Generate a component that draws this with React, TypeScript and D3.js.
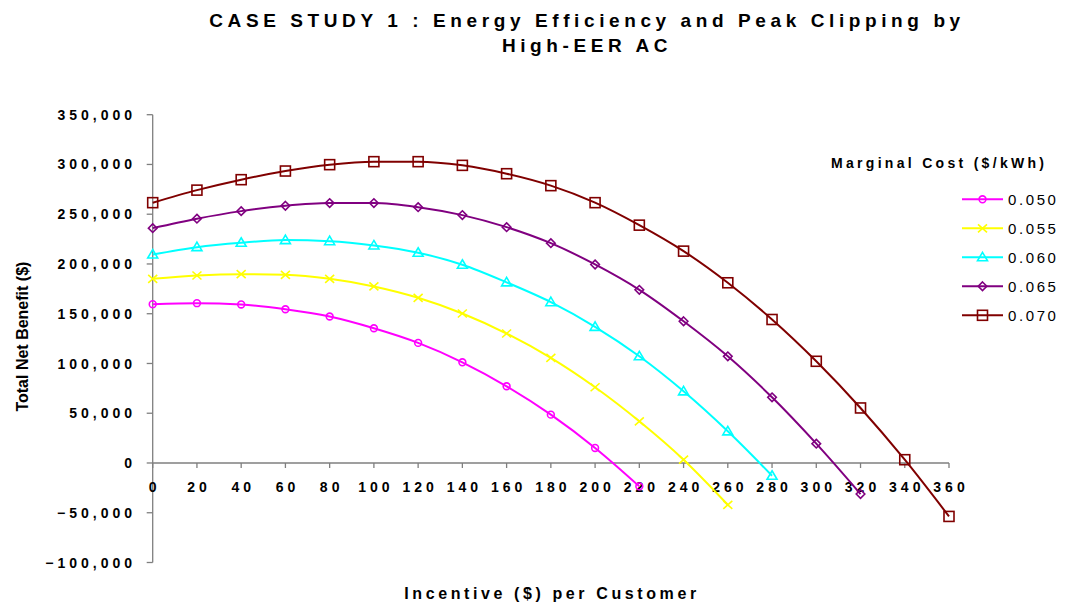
import React from "react";
import * as d3 from "d3";

const incentives = [0, 20, 40, 60, 80, 100, 120, 140, 160, 180, 200, 220, 240, 260, 280, 300, 320, 340, 360];

const s050 = [159600, 160600, 159300, 154500, 147200, 135400, 120700, 101200, 77100, 48600, 15100, -23500];
const s055 = [185100, 188400, 189700, 189100, 185100, 177400, 166000, 150200, 130100, 105600, 76100, 41900, 3300, -42000];
const s060 = [209500, 216900, 221300, 224000, 222900, 218600, 211300, 199200, 181500, 161600, 136800, 107200, 72000, 31800, -12800];
const s065 = [236000, 245500, 253100, 258500, 261200, 261200, 257100, 249100, 237000, 220900, 199500, 174000, 142400, 107200, 66000, 19400, -31200];
const s070 = [261600, 274200, 284700, 293400, 299800, 302800, 302800, 299100, 290700, 278700, 261600, 239000, 212900, 181100, 144200, 102200, 55300, 3300, -53700];

const seriesLabels = ["0.050", "0.055", "0.060", "0.065", "0.070"];
const seriesValues = [s050, s055, s060, s065, s070];
const seriesColors = ["#FF00FF", "#FFFF00", "#00FFFF", "#800080", "#800000"];
const seriesMarkers = ["circle", "x", "triangle", "diamond", "square"];

const yTicks = [-100000, -50000, 0, 50000, 100000, 150000, 200000, 250000, 300000, 350000];
const xTicks = [0, 20, 40, 60, 80, 100, 120, 140, 160, 180, 200, 220, 240, 260, 280, 300, 320, 340, 360];

const FONT = "'Liberation Sans', Arial, sans-serif";

function Marker({ type, x, y, color }: { type: string; x: number; y: number; color: string }) {
  const sw = 1.6;
  if (type === "circle") return <circle cx={x} cy={y} r={3.4} fill="none" stroke={color} strokeWidth={sw} />;
  if (type === "square") return <rect x={x - 5} y={y - 5} width={10} height={10} fill="none" stroke={color} strokeWidth={sw} />;
  if (type === "diamond")
    return <path d={`M${x},${y - 4.3}L${x + 4.3},${y}L${x},${y + 4.3}L${x - 4.3},${y}Z`} fill="none" stroke={color} strokeWidth={sw} />;
  if (type === "triangle")
    return <path d={`M${x},${y - 5}L${x + 5},${y + 3.5}L${x - 5},${y + 3.5}Z`} fill="none" stroke={color} strokeWidth={sw} />;
  return (
    <path d={`M${x - 4.5},${y - 4}L${x + 4.5},${y + 4}M${x - 4.5},${y + 4}L${x + 4.5},${y - 4}`} fill="none" stroke={color} strokeWidth={sw} />
  );
}

export default function App() {
  const W = 1065, H = 606;
  const x = d3.scaleLinear().domain([0, 360]).range([152.7, 949]);
  const y = d3.scaleLinear().domain([-100000, 350000]).range([562.5, 114.7]);
  const line = d3
    .line<number>()
    .x((_, i) => x(incentives[i]))
    .y((d) => y(d))
    .curve(d3.curveMonotoneX);
  const fmt = d3.format(",");
  const axisColor = "#7f7f7f";

  return (
    <svg width={W} height={H} style={{ position: "absolute", left: 0, top: 0, background: "#fff" }} fontFamily={FONT}>
      <rect x={0} y={0} width={W} height={H} fill="#fff" />
      {/* Title */}
      <text x={587} y={27} textAnchor="middle" fontSize={19} fontWeight="bold" letterSpacing={4.6}>
        CASE STUDY 1 : Energy Efficiency and Peak Clipping by
      </text>
      <text x={587} y={52} textAnchor="middle" fontSize={19} fontWeight="bold" letterSpacing={4.6}>
        High-EER AC
      </text>

      {/* Y axis */}
      <line x1={x(0)} x2={x(0)} y1={y(350000)} y2={y(-100000)} stroke={axisColor} strokeWidth={1.3} />
      {yTicks.map((t) => (
        <g key={t}>
          <line x1={x(0) - 6} x2={x(0)} y1={y(t)} y2={y(t)} stroke={axisColor} strokeWidth={1.3} />
          <text x={136} y={y(t)} dy="0.36em" textAnchor="end" fontSize={14} fontWeight="bold" letterSpacing={4}>
            {fmt(t)}
          </text>
        </g>
      ))}

      {/* X axis at zero */}
      <line x1={x(0)} x2={x(360)} y1={y(0)} y2={y(0)} stroke={axisColor} strokeWidth={1.3} />
      {xTicks.map((t) => (
        <g key={t}>
          <line x1={x(t)} x2={x(t)} y1={y(0)} y2={y(0) + 5} stroke={axisColor} strokeWidth={1.3} />
          <text x={x(t) + 2} y={492} textAnchor="middle" fontSize={14} fontWeight="bold" letterSpacing={4}>
            {t}
          </text>
        </g>
      ))}

      {/* Axis titles */}
      <text
        transform={`translate(28,${y(125000) - 2}) rotate(-90)`}
        textAnchor="middle"
        fontSize={16}
        fontWeight="bold"
      >
        Total Net Benefit ($)
      </text>
      <text x={552} y={599} textAnchor="middle" fontSize={16} fontWeight="bold" letterSpacing={3.6}>
        Incentive ($) per Customer
      </text>

      {/* Series */}
      {seriesValues.map((vals, si) => (
        <g key={si}>
          <path d={line(vals) || ""} fill="none" stroke={seriesColors[si]} strokeWidth={2} />
          {vals.map((v, i) => (
            <Marker key={i} type={seriesMarkers[si]} x={x(incentives[i])} y={y(v)} color={seriesColors[si]} />
          ))}
        </g>
      ))}

      {/* Legend */}
      <text x={831} y={168} fontSize={14} fontWeight="bold" letterSpacing={3.3}>
        Marginal Cost ($/kWh)
      </text>
      {seriesLabels.map((lab, i) => {
        const ly = 199.3 + i * 29;
        return (
          <g key={lab}>
            <line x1={962} x2={1003} y1={ly} y2={ly} stroke={seriesColors[i]} strokeWidth={2} />
            <Marker type={seriesMarkers[i]} x={982.5} y={ly} color={seriesColors[i]} />
            <text x={1008} y={ly} dy="0.36em" fontSize={15} letterSpacing={2.6}>
              {lab}
            </text>
          </g>
        );
      })}
    </svg>
  );
}
